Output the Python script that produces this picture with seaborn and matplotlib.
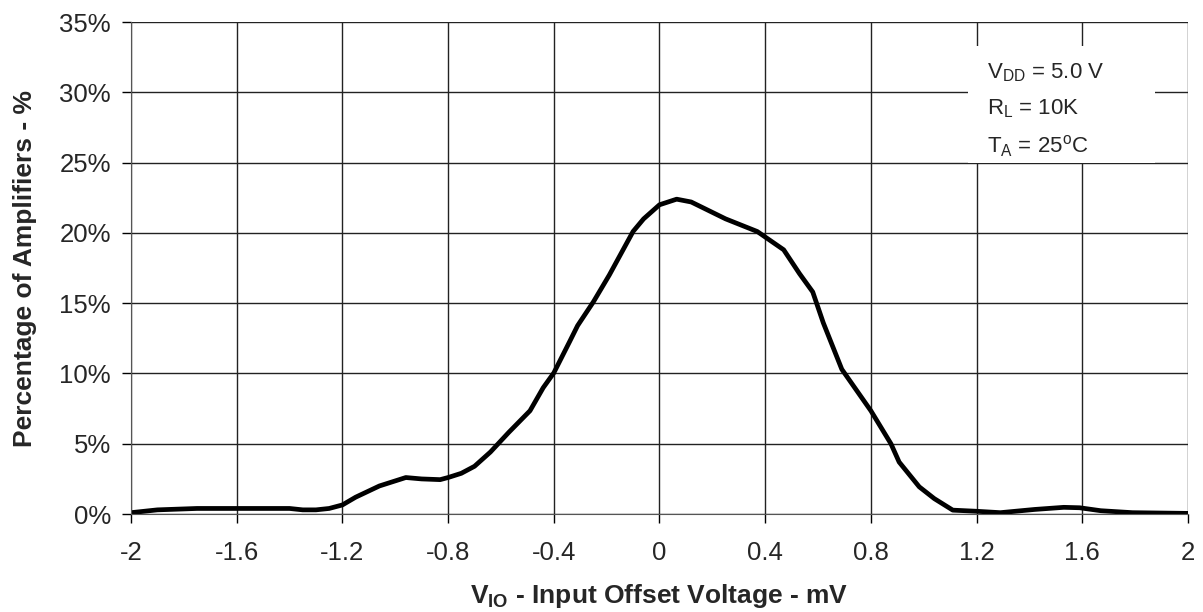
import matplotlib
matplotlib.use('Agg')

import matplotlib.pyplot as plt
import matplotlib.patches as patches
from matplotlib.ticker import FuncFormatter
import seaborn as sns

# offset voltage (mV) and share of amplifiers (%)
vio_mv = [-2.0, -1.9, -1.75, -1.6, -1.45, -1.4, -1.35, -1.3, -1.25, -1.2, -1.15,
          -1.06, -0.96, -0.9, -0.83, -0.8, -0.75, -0.7,
          -0.64, -0.57, -0.49, -0.44, -0.4, -0.34, -0.31,
          -0.25, -0.19, -0.1, -0.06, 0.0, 0.065, 0.12,
          0.25, 0.37, 0.47, 0.53, 0.58, 0.62, 0.69,
          0.8, 0.876, 0.907, 0.983, 1.04, 1.11,
          1.2, 1.29, 1.42, 1.53, 1.59, 1.67, 1.79, 2.0]
pct_amps = [0.1, 0.3, 0.4, 0.4, 0.4, 0.4, 0.3, 0.3, 0.4, 0.65, 1.2,
            2.0, 2.6, 2.5, 2.45, 2.6, 2.9, 3.4,
            4.41, 5.82, 7.35, 8.99, 10.04, 12.27, 13.4,
            15.1, 17.0, 20.1, 21.0, 22.0, 22.4, 22.2,
            21.0, 20.1, 18.8, 17.1, 15.8, 13.6, 10.3,
            7.35, 5.0, 3.7, 1.94, 1.1, 0.28,
            0.2, 0.1, 0.33, 0.48, 0.45, 0.24, 0.1, 0.05]

x_ticks = [-2, -1.6, -1.2, -0.8, -0.4, 0, 0.4, 0.8, 1.2, 1.6, 2]
x_tick_labels = ['-2', '-1.6', '-1.2', '-0.8', '-0.4', '0', '0.4', '0.8', '1.2', '1.6', '2']
y_ticks = [0, 5, 10, 15, 20, 25, 30, 35]

conditions = [r'V$_{\mathregular{DD}}$ = 5.0 V',
              r'R$_{\mathregular{L}}$ = 10K',
              r'T$_{\mathregular{A}}$ = 25$^{\mathregular{o}}$C']

sns.set_style('white')
plt.rcParams['font.family'] = ['Liberation Sans', 'DejaVu Sans']
plt.rcParams['mathtext.fontset'] = 'custom'
plt.rcParams['mathtext.rm'] = 'Liberation Sans'
plt.rcParams['mathtext.bf'] = 'Liberation Sans:bold'

fig = plt.figure(figsize=(12.03, 6.12), dpi=100)
ax = fig.add_axes([0.1089, 0.160, 0.8786, 0.804])

sns.lineplot(x=vio_mv, y=pct_amps, color='black', linewidth=3.4, ax=ax)
for l in ax.lines:
    l.set_solid_joinstyle('round')
    l.set_solid_capstyle('round')

ax.set_xlim(-2, 2)
ax.set_ylim(0, 35)
ax.set_xticks(x_ticks)
ax.set_xticklabels(x_tick_labels)
ax.set_yticks(y_ticks)
ax.yaxis.set_major_formatter(FuncFormatter(lambda v, p: f'{v:.0f}%'))
ax.grid(True, color='#222222', linewidth=1.0)
ax.set_axisbelow(True)
for s in ax.spines.values():
    s.set_visible(False)
ax.spines['left'].set_visible(True)
ax.spines['bottom'].set_visible(True)
ax.spines['left'].set_color('#555555')
ax.spines['bottom'].set_color('#555555')
ax.tick_params(axis='both', which='both', direction='out', length=6.5, width=1,
               color='black', labelsize=18.5, left=True, bottom=True)
ax.tick_params(axis='y', pad=8)
ax.tick_params(axis='x', pad=13)

ax.set_xlabel(r'V$_{\mathbf{IO}}$ - Input Offset Voltage - mV', fontsize=19,
              fontweight='bold', labelpad=12)
ax.set_ylabel('Percentage of Amplifiers - %', fontsize=19, fontweight='bold')
ax.yaxis.set_label_coords(-0.089, 0.5)

# white box behind test conditions
box = patches.Rectangle((1.167, 24.96), 0.708, 8.34, transform=ax.transData,
                        facecolor='white', edgecolor='none', zorder=3)
ax.add_patch(box)
for i, txt in enumerate(conditions):
    ax.text(1.24, 31.4 - i * 2.6, txt, fontsize=16, va='center', ha='left', zorder=4)

plt.savefig('out.png', dpi=100)
plt.close()
